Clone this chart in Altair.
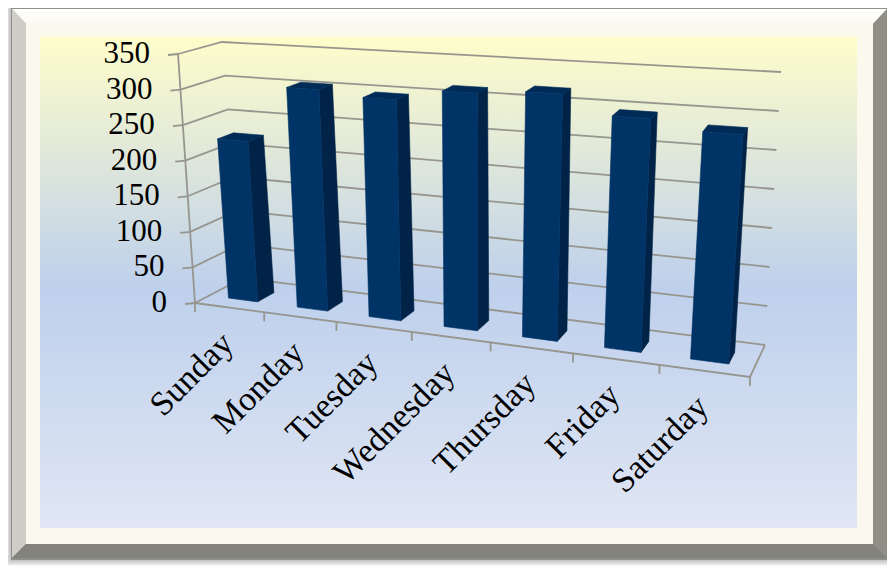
import altair as alt
import pandas as pd

days = ["Sunday", "Monday", "Tuesday", "Wednesday", "Thursday", "Friday", "Saturday"]
counts = [226, 306, 299, 315, 321, 297, 285]
axis_ticks = [0, 50, 100, 150, 200, 250, 300, 350]
V_MAX = 350

# camera of the 3-D box: screen position of its corners
FLOOR = {"fl": (195, 303), "bl": (243, 278), "br": (765, 345), "fr": (750, 377)}
ROOF = {"fl": (178, 54), "bl": (222, 42), "br": (781, 72), "fr": (771, 89)}
PERSP = 1.17
BAR_W = 0.43
D0, D1 = 0.3, 0.66


def plane(q, u, d):
    x0 = q["fl"][0] + (q["fr"][0] - q["fl"][0]) * u
    y0 = q["fl"][1] + (q["fr"][1] - q["fl"][1]) * u
    x1 = q["bl"][0] + (q["br"][0] - q["bl"][0]) * u
    y1 = q["bl"][1] + (q["br"][1] - q["bl"][1]) * u
    return x0 + (x1 - x0) * d, y0 + (y1 - y0) * d


def project(c, d, v):
    c = c / 7
    u = c / (c + PERSP * (1 - c)) if c > 0 else 0.0
    a = plane(FLOOR, u, d)
    b = plane(ROOF, u, d)
    h = v / V_MAX
    return a[0] + (b[0] - a[0]) * h, a[1] + (b[1] - a[1]) * h


xs = alt.Scale(domain=[8, 887], range=[0, 879], nice=False, zero=False)
ys = alt.Scale(domain=[8, 566], range=[0, 558], nice=False, zero=False)
X = alt.X("x:Q", scale=xs, axis=None)
Y = alt.Y("y:Q", scale=ys, axis=None)


def poly_df(polys):
    rows = []
    for k, pts in enumerate(polys):
        for o, (x, y) in enumerate(list(pts) + [pts[0]]):
            rows.append({"id": k, "ord": o, "x": x, "y": y})
    return pd.DataFrame(rows)


def filled(polys, fill, stroke=None, opacity=1.0):
    kw = {"fill": fill, "opacity": opacity, "clip": False}
    if stroke:
        kw.update(stroke=stroke, strokeWidth=0.6)
    else:
        kw.update(strokeWidth=0)
    return alt.Chart(poly_df(polys)).mark_line(**kw).encode(x=X, y=Y, detail="id:N", order="ord:Q")


def rect(x0, y0, x1, y1):
    return [(x0, y0), (x1, y0), (x1, y1), (x0, y1)]


layers = []

# soft shadow round the frame
for k in range(1, 7):
    layers.append(filled([rect(11 - k * 1.0, 9 - k * 0.6, 888 + k, 560 + k)], "#000000", opacity=0.04))

# frame
layers.append(filled([rect(11, 8, 889, 560)], "#8f8f8a"))
layers.append(filled([rect(26, 24, 873, 544)], "#fbf9ee"))
top_grad = alt.Gradient(gradient="linear", x1=0, x2=0, y1=0, y2=1,
                        stops=[alt.GradientStop(color="#ffffff", offset=0),
                               alt.GradientStop(color="#fbf9ee", offset=1)])
layers.append(filled([[(12, 9), (887, 9), (873, 24), (26, 24)]], top_grad))
layers.append(filled([[(12, 9), (26, 24), (26, 544), (12, 558)]], "#cfcdc6"))
layers.append(filled([[(887, 9), (887, 558), (873, 544), (873, 24)]], "#8f8f86"))
layers.append(filled([[(12, 558), (26, 544), (873, 544), (887, 558)]], "#82827a"))

# gradient panel
panel_grad = alt.Gradient(gradient="linear", x1=0, x2=0, y1=0, y2=1,
                          stops=[alt.GradientStop(color="#fefdca", offset=0),
                                 alt.GradientStop(color="#bed0ec", offset=0.51),
                                 alt.GradientStop(color="#e0e6f4", offset=1)])
layers.append(filled([rect(40, 37, 857, 528)], panel_grad))

# walls, floor, ticks
segments = []
for t in axis_ticks:
    segments.append([project(0, 0, t), project(0, 1, t), project(7, 1, t)])
    a = project(0, 0, t)
    segments.append([(a[0] - 10, a[1] + 1), a])
segments.append([project(0, 0, 0), project(0, 0, V_MAX)])
segments.append([project(0, 0, 0), project(7, 0, 0), project(7, 1, 0)])
for i in range(8):
    a = project(i, 0, 0)
    segments.append([a, (a[0], a[1] + 9)])
rows = []
for k, s in enumerate(segments):
    for o, (x, y) in enumerate(s):
        rows.append({"id": k, "ord": o, "x": x, "y": y})
layers.append(alt.Chart(pd.DataFrame(rows)).mark_line(color="#96968f", strokeWidth=1.8)
              .encode(x=X, y=Y, detail="id:N", order="ord:Q"))

# bars
front, side, top = [], [], []
for i, v in enumerate(counts):
    c0, c1 = i + 0.5 - BAR_W / 2, i + 0.5 + BAR_W / 2
    front.append([project(c0, D0, v), project(c1, D0, v), project(c1, D0, 0), project(c0, D0, 0)])
    side.append([project(c1, D0, v), project(c1, D1, v), project(c1, D1, 0), project(c1, D0, 0)])
    top.append([project(c0, D0, v), project(c0, D1, v), project(c1, D1, v), project(c1, D0, v)])
layers.append(filled(side, "#002347", stroke="#002347"))
layers.append(filled(top, "#002b57", stroke="#002b57"))
layers.append(filled(front, "#003366", stroke="#003366"))

# value labels
val_rows = []
for t in axis_ticks:
    a = project(0, 0, t)
    val_rows.append({"x": a[0] - 28, "y": a[1], "label": str(t)})
layers.append(alt.Chart(pd.DataFrame(val_rows)).mark_text(
    font="Liberation Serif", fontSize=31, align="right", baseline="middle", color="#000000"
).encode(x=X, y=Y, text="label:N"))

# category labels
cat_rows = []
for i, d in enumerate(days):
    a = project(i + 0.5, 0, 0)
    cat_rows.append({"x": a[0] - 1, "y": a[1] + 31, "label": d})
layers.append(alt.Chart(pd.DataFrame(cat_rows)).mark_text(
    font="Liberation Serif", fontSize=34, align="right", baseline="middle", angle=315, color="#000000"
).encode(x=X, y=Y, text="label:N"))

chart = alt.layer(*layers).properties(
    width=879, height=558, padding=0, autosize=alt.AutoSizeParams(type="none"), background="white"
).configure_view(stroke=None)

chart.save("out.html", embed_options={"renderer": "svg", "actions": False})
